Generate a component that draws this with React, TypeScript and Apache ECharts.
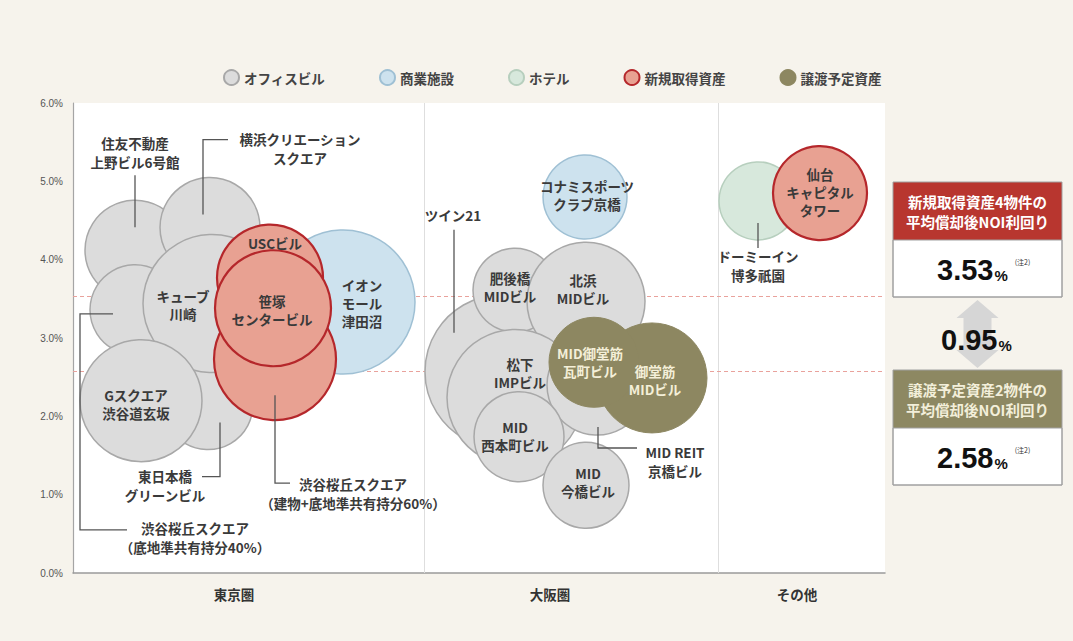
import React, { useEffect, useRef } from "react";
import * as echarts from "echarts";

// ---------------- axes / categories ----------------
const yMin = 0;
const yMax = 6;
const yStep = 1;
const categories = ["東京圏", "大阪圏", "その他"];
const categoryLabelAt = [161, 477, 724];
const categoryBounds = [351, 645];
const xRange = [0, 812];

// ---------------- series data (x: layout position, y: NOI yield %, size: bubble diameter) ----------------
const officeNames = [
  "住友不動産上野ビル6号館",
  "横浜クリエーションスクエア",
  "東日本橋グリーンビル",
  "渋谷桜丘スクエア(底地準共有持分40%)",
  "キューブ川崎",
  "Gスクエア渋谷道玄坂",
  "ツイン21",
  "肥後橋MIDビル",
  "北浜MIDビル",
  "松下IMPビル",
  "MID REIT京橋ビル",
  "MID西本町ビル",
  "MID今橋ビル",
];
const officeX = [62, 137, 135, 62, 139, 68, 429, 442, 513, 442, 524, 446, 513];
const officeY = [4.12, 4.41, 2.15, 3.36, 3.44, 2.2, 2.57, 3.61, 3.47, 2.24, 2.4, 1.74, 1.12];
const officeSize = [100, 100, 90, 90, 138, 122, 154, 84, 118, 136, 100, 90, 86];

const retailNames = ["イオンモール津田沼", "コナミスポーツクラブ京橋"];
const retailX = [270, 512];
const retailY = [3.46, 4.8];
const retailSize = [144, 84];

const hotelNames = ["ドーミーイン博多祇園"];
const hotelX = [685];
const hotelY = [4.75];
const hotelSize = [78];

const newNames = [
  "渋谷桜丘スクエア(建物+底地準共有持分60%)",
  "USCビル",
  "笹塚センタービル",
  "仙台キャピタルタワー",
];
const newX = [202, 197, 200, 747];
const newY = [2.73, 3.77, 3.38, 4.85];
const newSize = [122, 106, 116, 94];

const transferNames = ["御堂筋MIDビル", "MID御堂筋瓦町ビル"];
const transferX = [579, 521];
const transferY = [2.49, 2.69];
const transferSize = [110, 90];

const avgNewYield = 3.53;
const avgTransferYield = 2.58;
const yieldGap = 0.95;

const seriesNames = ["オフィスビル", "商業施設", "ホテル", "新規取得資産", "譲渡予定資産"];
const newBoxTitle = "新規取得資産4物件の\n平均償却後NOI利回り";
const transferBoxTitle = "譲渡予定資産2物件の\n平均償却後NOI利回り";
const noteMark = "(注2)";

// ---------------- label layout ----------------
const insideLabels: Record<string, { text: string; offset: [number, number] }> = {
  "キューブ川崎": { text: "キューブ\n川崎", offset: [-29, 1] },
  "Gスクエア渋谷道玄坂": { text: "Gスクエア\n渋谷道玄坂", offset: [-5, 3] },
  "USCビル": { text: "USCビル", offset: [5, -35] },
  "笹塚センタービル": { text: "笹塚\nセンタービル", offset: [-1, 2] },
  "イオンモール津田沼": { text: "イオン\nモール\n津田沼", offset: [19, 1] },
  "コナミスポーツクラブ京橋": { text: "コナミスポーツ\nクラブ京橋", offset: [2, -2] },
  "肥後橋MIDビル": { text: "肥後橋\nMIDビル", offset: [-5, -3] },
  "北浜MIDビル": { text: "北浜\nMIDビル", offset: [-3, -12] },
  "松下IMPビル": { text: "松下\nIMPビル", offset: [5, -25] },
  "MID西本町ビル": { text: "MID\n西本町ビル", offset: [-4, -1] },
  "MID今橋ビル": { text: "MID\n今橋ビル", offset: [2, -3] },
  "MID御堂筋瓦町ビル": { text: "MID御堂筋\n瓦町ビル", offset: [-4, 0] },
  "御堂筋MIDビル": { text: "御堂筋\nMIDビル", offset: [3, 2] },
  "仙台キャピタルタワー": { text: "仙台\nキャピタル\nタワー", offset: [0, -1] },
};

const callouts: Record<string, { text: string; at: [number, number]; leader: [number, number][] }> = {
  "住友不動産上野ビル6号館": { text: "住友不動産\n上野ビル6号館", at: [0, -98], leader: [[0, -75], [0, -23]] },
  "横浜クリエーションスクエア": { text: "横浜クリエーション\nスクエア", at: [90, -79], leader: [[18, -88], [-7, -88], [-7, -13]] },
  "渋谷桜丘スクエア(底地準共有持分40%)": {
    text: "渋谷桜丘スクエア\n（底地準共有持分40%）",
    at: [60, 228],
    leader: [[-22, 4], [-55, 4], [-55, 220], [-8, 220]],
  },
  "東日本橋グリーンビル": { text: "東日本橋\nグリーンビル", at: [-43, 81], leader: [[12, 18], [12, 72], [-6, 72]] },
  "渋谷桜丘スクエア(建物+底地準共有持分60%)": {
    text: "渋谷桜丘スクエア\n（建物+底地準共有持分60%）",
    at: [78, 134],
    leader: [[0, 36], [0, 124], [15, 124]],
  },
  "ツイン21": { text: "ツイン21", at: [-49, -157], leader: [[-48, -142], [-48, -39]] },
  "MID REIT京橋ビル": { text: "MID REIT\n京橋ビル", at: [78, 76], leader: [[1, 42], [1, 63], [40, 63]] },
  "ドーミーイン博多祇園": { text: "ドーミーイン\n博多祇園", at: [0, 65], leader: [[0, 22], [0, 47]] },
};

const FONT = "'Noto Sans CJK JP', 'Noto Sans', sans-serif";
const NUMFONT = "'Liberation Sans', Arial, sans-serif";
const LABEL_SIZE = 13.5;

const styles = [
  { fill: "#dcdcdc", border: "#a8a8a8", bw: 1.5, label: "#3a3a3a" },
  { fill: "#cde2ee", border: "#9fc0d4", bw: 1.5, label: "#3a3a3a" },
  { fill: "#d7e8dc", border: "#b7cfbe", bw: 1.5, label: "#3a3a3a" },
  { fill: "#e8a192", border: "#b5272b", bw: 2.2, label: "#3a3a3a" },
  { fill: "#8d8761", border: "#8d8761", bw: 1, label: "#f4efd8" },
];

function buildData(names: string[], xs: number[], ys: number[], sizes: number[]) {
  return names.map((n, i) => {
    const lab = insideLabels[n];
    return {
      name: n,
      value: [xs[i], ys[i], sizes[i]],
      label: lab ? { show: true, offset: lab.offset } : { show: false },
    };
  });
}

export default function App() {
  const ref = useRef<HTMLDivElement>(null);

  useEffect(() => {
    document.body.style.margin = "0";
    if (!ref.current) return;
    const chart = echarts.init(ref.current, undefined, { renderer: "svg" });

    const groups = [
      buildData(officeNames, officeX, officeY, officeSize),
      buildData(retailNames, retailX, retailY, retailSize),
      buildData(hotelNames, hotelX, hotelY, hotelSize),
      buildData(newNames, newX, newY, newSize),
      buildData(transferNames, transferX, transferY, transferSize),
    ];

    const bubbleSeries = groups.map((data, i) => ({
      type: "scatter",
      name: seriesNames[i],
      z: 3 + i,
      data,
      symbol: "circle",
      symbolSize: (v: number[]) => v[2],
      itemStyle: {
        color: styles[i].fill,
        borderColor: styles[i].border,
        borderWidth: styles[i].bw,
        opacity: 1,
      },
      label: {
        show: true,
        position: "inside",
        formatter: (p: any) => (insideLabels[p.name] ? insideLabels[p.name].text : ""),
        color: styles[i].label,
        fontSize: LABEL_SIZE,
        fontWeight: "bold",
        fontFamily: FONT,
        lineHeight: 18,
        align: "center",
      },
      emphasis: { disabled: true },
      silent: true,
    }));

    const option: any = {
      animation: false,
      backgroundColor: "#f6f3ec",
      textStyle: { fontFamily: FONT },
      grid: {
        left: 73,
        right: 188,
        top: 103,
        bottom: 68,
        show: true,
        backgroundColor: "#ffffff",
        borderWidth: 0,
      },
      legend: {
        data: seriesNames,
        left: 218,
        top: 64,
        itemGap: 54,
        itemWidth: 15,
        itemHeight: 15,
        icon: "circle",
        textStyle: { fontSize: 13.5, fontWeight: "bold", color: "#444", fontFamily: FONT },
        selectedMode: false,
      },
      xAxis: {
        type: "value",
        min: xRange[0],
        max: xRange[1],
        axisLine: { show: true, lineStyle: { color: "#9a9a9a", width: 1.5 } },
        axisTick: { show: false },
        splitLine: { show: false },
        axisLabel: {
          customValues: categoryLabelAt,
          formatter: (v: number) => {
            const idx = categoryLabelAt.indexOf(v);
            return idx >= 0 ? categories[idx] : "";
          },
          fontSize: 13.5,
          fontWeight: "bold",
          color: "#333",
          margin: 14,
          fontFamily: FONT,
        },
      },
      yAxis: {
        type: "value",
        min: yMin,
        max: yMax,
        interval: yStep,
        axisLine: { show: true, lineStyle: { color: "#a5a5a5", width: 1.2 } },
        axisTick: { show: false },
        splitLine: { show: false },
        axisLabel: {
          formatter: (v: number) => v.toFixed(1) + "%",
          fontSize: 10,
          color: "#555",
          margin: 10,
          fontFamily: NUMFONT,
        },
      },
      series: [
        {
          type: "line",
          data: [],
          silent: true,
          markLine: {
            z: 1,
            silent: true,
            symbol: "none",
            label: { show: false },
            data: [
              ...categoryBounds.map((b) => ({ xAxis: b, lineStyle: { color: "#dedede", type: "solid", width: 1 } })),
              { yAxis: avgNewYield, lineStyle: { color: "#e9a29c", type: [4, 3], width: 1 } },
              { yAxis: avgTransferYield, lineStyle: { color: "#e9a29c", type: [4, 3], width: 1 } },
            ],
          },
        },
        ...bubbleSeries,
      ],
    };
    chart.setOption(option);

    // callouts (text + leader lines) anchored to bubble centres
    const allNames = [...officeNames, ...retailNames, ...hotelNames, ...newNames, ...transferNames];
    const allX = [...officeX, ...retailX, ...hotelX, ...newX, ...transferX];
    const allY = [...officeY, ...retailY, ...hotelY, ...newY, ...transferY];
    const graphics: any[] = [];
    Object.keys(callouts).forEach((name) => {
      const i = allNames.indexOf(name);
      if (i < 0) return;
      const c = chart.convertToPixel({ gridIndex: 0 }, [allX[i], allY[i]]) as number[];
      const co = callouts[name];
      graphics.push({
        type: "polyline",
        z: 100,
        silent: true,
        shape: { points: co.leader.map((p) => [c[0] + p[0], c[1] + p[1]]) },
        style: { stroke: "#555", lineWidth: 1.3, fill: null },
      });
      graphics.push({
        type: "text",
        z: 100,
        silent: true,
        x: c[0] + co.at[0],
        y: c[1] + co.at[1],
        style: {
          text: co.text,
          fill: "#3a3a3a",
          fontSize: LABEL_SIZE,
          fontWeight: "bold",
          fontFamily: FONT,
          lineHeight: 19,
          align: "center",
          verticalAlign: "middle",
          textAlign: "center",
          textVerticalAlign: "middle",
        },
      });
    });

    // side panel
    const boxX = 893;
    const boxW = 169;
    const cx = boxX + boxW / 2;
    const txt = (text: string, x: number, y: number, o: any) => ({
      type: "text",
      z: 100,
      silent: true,
      x,
      y,
      style: {
        text,
        fontFamily: FONT,
        verticalAlign: "middle",
        textVerticalAlign: "middle",
        ...o,
        textAlign: o.align,
      },
    });
    const panel = (top: number, color: string, title: string, value: number, titleColor: string) => [
      { type: "rect", z: 100, silent: true, shape: { x: boxX, y: top, width: boxW, height: 58 }, style: { fill: color } },
      {
        type: "rect",
        z: 100,
        silent: true,
        shape: { x: boxX, y: top + 58, width: boxW, height: 57 },
        style: { fill: "#ffffff", stroke: "#a0a0a0", lineWidth: 1 },
      },
      {
        type: "rect",
        z: 101,
        silent: true,
        shape: { x: boxX, y: top, width: boxW, height: 115 },
        style: { fill: null, stroke: "#a0a0a0", lineWidth: 1 },
      },
      txt(title, cx, top + 29, { fill: titleColor, fontSize: 14.5, fontWeight: "bold", lineHeight: 20, align: "center" }),
      txt(value.toFixed(2), cx + 16, top + 88, { fill: "#111", fontSize: 29, fontWeight: "bold", fontFamily: NUMFONT, align: "right" }),
      txt("%", cx + 17, top + 93, { fill: "#111", fontSize: 15, fontWeight: "bold", fontFamily: NUMFONT, align: "left" }),
      txt(noteMark, cx + 45, top + 80, { fill: "#333", fontSize: 7, align: "center" }),
    ];
    graphics.push(...panel(182, "#b8362f", newBoxTitle, avgNewYield, "#ffffff"));
    graphics.push(...panel(370, "#8d8862", transferBoxTitle, avgTransferYield, "#f3efda"));
    graphics.push({
      type: "polygon",
      z: 99,
      silent: true,
      shape: {
        points: [
          [cx, 300], [cx + 21, 318], [cx + 14, 318], [cx + 14, 350], [cx + 21, 350],
          [cx, 368], [cx - 21, 350], [cx - 14, 350], [cx - 14, 318], [cx - 21, 318],
        ],
      },
      style: { fill: "#d6d6d6" },
    });
    graphics.push(txt(yieldGap.toFixed(2), cx + 20, 340, { fill: "#111", fontSize: 29, fontWeight: "bold", fontFamily: NUMFONT, align: "right" }));
    graphics.push(txt("%", cx + 21, 345, { fill: "#111", fontSize: 15, fontWeight: "bold", fontFamily: NUMFONT, align: "left" }));

    chart.setOption({ graphic: graphics });

    return () => chart.dispose();
  }, []);

  return (
    <div
      ref={ref}
      style={{ position: "absolute", left: 0, top: 0, width: 1073, height: 641 }}
    />
  );
}
